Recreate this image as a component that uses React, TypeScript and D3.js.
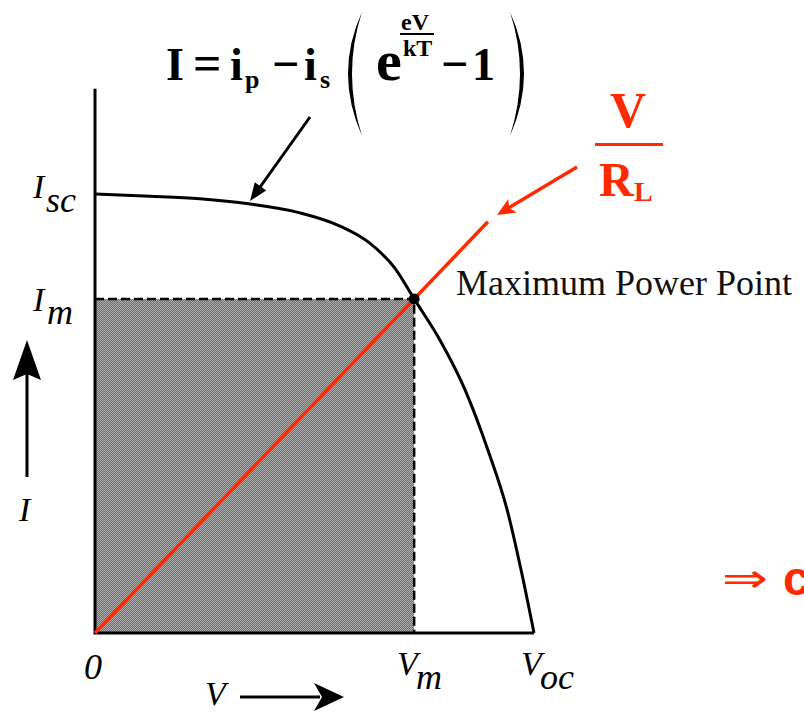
import React, { useEffect, useRef } from 'react';
import * as d3 from 'd3';

// I-V curve of the solar cell (V and I normalised to Voc and Isc)
const curveV = [0, 0.125, 0.239, 0.353, 0.467, 0.558, 0.626, 0.683, 0.727, 0.786, 0.843, 0.895, 0.939, 0.973, 1];
const curveI = [1, 0.995, 0.989, 0.977, 0.957, 0.927, 0.888, 0.831, 0.761, 0.667, 0.554, 0.417, 0.28, 0.132, 0];

// maximum power point
const mppV = 0.727;
const mppI = 0.761;
// load line V/RL runs from the origin through the MPP up to this voltage
const loadEndV = 0.895;
const yAxisTop = 1.24;

const serif = "'Liberation Serif', 'Times New Roman', serif";
const red = '#ff2a00';

const width = 804;
const height = 713;

function arrowHead(x1: number, y1: number, x2: number, y2: number, len: number, half: number, notch = 0) {
  const dx = x2 - x1, dy = y2 - y1;
  const l = Math.hypot(dx, dy);
  const ux = dx / l, uy = dy / l;
  const px = -uy, py = ux;
  const bx = x2 - ux * len, by = y2 - uy * len;
  const nx = x2 - ux * (len - notch), ny = y2 - uy * (len - notch);
  return `M${x2},${y2} L${bx + px * half},${by + py * half} L${nx},${ny} L${bx - px * half},${by - py * half} Z`;
}

const Chart = () => {
  const ref = useRef<SVGSVGElement>(null);

  useEffect(() => {
    const svg = d3.select(ref.current);
    svg.selectAll('*').remove();

    const x = d3.scaleLinear().domain([0, 1]).range([95, 534]);
    const y = d3.scaleLinear().domain([0, 1]).range([633, 194]);

    const defs = svg.append('defs');
    const pat = defs.append('pattern')
      .attr('id', 'halftone')
      .attr('width', 2).attr('height', 2)
      .attr('patternUnits', 'userSpaceOnUse');
    pat.append('rect').attr('width', 2).attr('height', 2).attr('fill', '#6e6e6e');
    pat.append('rect').attr('width', 1).attr('height', 1).attr('fill', '#adadad');
    pat.append('rect').attr('x', 1).attr('y', 1).attr('width', 1).attr('height', 1).attr('fill', '#adadad');

    // shaded power rectangle
    svg.append('rect')
      .attr('x', x(0)).attr('y', y(mppI))
      .attr('width', x(mppV) - x(0))
      .attr('height', y(0) - y(mppI))
      .attr('fill', 'url(#halftone)');

    // dashed edges
    svg.append('path')
      .attr('d', `M${x(0)},${y(mppI)} H${x(mppV)} V${y(0)}`)
      .attr('fill', 'none')
      .attr('stroke', '#000')
      .attr('stroke-width', 2.5)
      .attr('stroke-dasharray', '9 4');

    // axes
    svg.append('path')
      .attr('d', `M${x(0)},${y(yAxisTop)} V${y(0)} H${x(1)}`)
      .attr('fill', 'none')
      .attr('stroke', '#000')
      .attr('stroke-width', 3);

    // I-V curve
    const line = d3.line<number>()
      .x((d) => x(d))
      .y((d, i) => y(curveI[i]))
      .curve(d3.curveMonotoneX);
    svg.append('path')
      .attr('d', line(curveV))
      .attr('fill', 'none')
      .attr('stroke', '#000')
      .attr('stroke-width', 3);

    // load line
    const slope = mppI / mppV;
    svg.append('line')
      .attr('x1', x(0)).attr('y1', y(0))
      .attr('x2', x(loadEndV)).attr('y2', y(loadEndV * slope))
      .attr('stroke', red)
      .attr('stroke-width', 3.5);

    // MPP dot
    svg.append('circle')
      .attr('cx', x(mppV)).attr('cy', y(mppI))
      .attr('r', 5.5)
      .attr('fill', '#000');

    // red pointer arrow
    svg.append('line')
      .attr('x1', 577).attr('y1', 167).attr('x2', 505).attr('y2', 210)
      .attr('stroke', red).attr('stroke-width', 3.5);
    svg.append('path').attr('d', arrowHead(577, 167, 497, 215, 18, 8, 4)).attr('fill', red);

    // black pointer arrow to the curve
    svg.append('line')
      .attr('x1', 310).attr('y1', 117).attr('x2', 258).attr('y2', 190)
      .attr('stroke', '#000').attr('stroke-width', 3);
    svg.append('path').attr('d', arrowHead(310, 117, 250, 201, 18, 7)).attr('fill', '#000');

    // I arrow (vertical)
    svg.append('line')
      .attr('x1', 27).attr('y1', 477).attr('x2', 27).attr('y2', 365)
      .attr('stroke', '#000').attr('stroke-width', 3);
    svg.append('path').attr('d', arrowHead(27, 477, 27, 340, 40, 14, 6)).attr('fill', '#000');

    // V arrow (horizontal)
    svg.append('line')
      .attr('x1', 240).attr('y1', 697).attr('x2', 320).attr('y2', 697)
      .attr('stroke', '#000').attr('stroke-width', 3);
    svg.append('path').attr('d', arrowHead(240, 697, 344, 697, 30, 14, 8)).attr('fill', '#000');

    // formula I = ip - is ( e^(eV/kT) - 1 )
    const f = svg.append('g').attr('font-family', serif).attr('font-weight', 'bold').attr('fill', '#000');
    const t = (tx: number, ty: number, size: number, s: string) =>
      f.append('text').attr('x', tx).attr('y', ty).attr('font-size', size).text(s);
    t(166, 80, 46, 'I');
    t(193, 80, 50, '=');
    t(230, 80, 46, 'i');
    t(245, 88, 26, 'p');
    t(272, 80, 48, '\u2212');
    t(304, 80, 46, 'i');
    t(320, 88, 26, 's');
    t(376, 80, 58, 'e');
    t(401, 30, 24, 'eV');
    t(403, 56, 24, 'kT');
    t(441, 80, 48, '\u2212');
    t(472, 80, 46, '1');
    f.append('rect').attr('x', 400).attr('y', 33).attr('width', 34).attr('height', 2);
    f.append('path').attr('d', 'M362,12 Q334,73 362,136 Q342,73 362,12 Z');
    f.append('path').attr('d', 'M510,12 Q538,73 510,136 Q530,73 510,12 Z');

    // V / RL in red
    const r = svg.append('g').attr('font-family', serif).attr('font-weight', 'bold').attr('fill', red);
    r.append('text').attr('x', 628).attr('y', 127).attr('font-size', 50).attr('text-anchor', 'middle').text('V');
    r.append('rect').attr('x', 595).attr('y', 143).attr('width', 68).attr('height', 3);
    r.append('text').attr('x', 599).attr('y', 196).attr('font-size', 48).text('R');
    r.append('text').attr('x', 634).attr('y', 201).attr('font-size', 28).text('L');

    svg.append('text')
      .attr('x', 456).attr('y', 295)
      .attr('font-family', serif).attr('font-size', 36)
      .attr('fill', '#111')
      .text('Maximum Power Point');

    // axis labels (italic)
    const lab = svg.append('g').attr('font-family', serif).attr('font-style', 'italic').attr('fill', '#000');
    const L = (tx: number, ty: number, size: number, s: string) =>
      lab.append('text').attr('x', tx).attr('y', ty).attr('font-size', size).text(s);
    L(33, 198, 34, 'I');
    L(46, 212, 36, 'sc');
    L(33, 311, 34, 'I');
    L(47, 324, 36, 'm');
    L(84, 679, 36, '0');
    L(397, 675, 34, 'V');
    L(416, 689, 36, 'm');
    L(521, 675, 34, 'V');
    L(540, 689, 36, 'oc');
    L(205, 705, 34, 'V');
    L(19, 521, 34, 'I');

    // arrow + c at bottom right
    svg.append('text')
      .attr('x', 722).attr('y', 592)
      .attr('font-family', "'DejaVu Sans', sans-serif")
      .attr('font-size', 40)
      .attr('textLength', 46)
      .attr('lengthAdjust', 'spacingAndGlyphs')
      .attr('fill', red)
      .text('\u21D2');
    svg.append('text')
      .attr('x', 783).attr('y', 595)
      .attr('font-family', "'Liberation Sans', Arial, sans-serif")
      .attr('font-weight', 'bold')
      .attr('font-size', 48)
      .attr('fill', red)
      .text('c');
  }, []);

  return <svg ref={ref} width={width} height={height} style={{ position: 'absolute', left: 0, top: 0, background: '#fff' }} />;
};

export default function App() {
  return <Chart />;
}
